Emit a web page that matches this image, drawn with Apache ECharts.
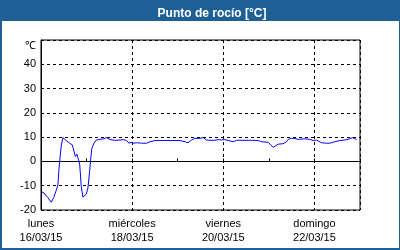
<!DOCTYPE html>
<html>
<head>
<meta charset="utf-8">
<script src="https://cdn.jsdelivr.net/npm/echarts@6/dist/echarts.min.js"></script>
<style>
html,body{margin:0;padding:0;}
#wrap{position:relative;width:400px;height:250px;background:#1e5f96;overflow:hidden;}
#inner{position:absolute;left:2px;top:21px;width:397px;height:227px;background:#ffffff;}
#chart{position:absolute;left:0;top:0;width:400px;height:250px;}
</style>
</head>
<body>
<div id="wrap"><div id="inner"></div><div id="chart"></div></div>
<script>
// hours since 16/03/15 00:00
var hours = [0,1.6,3.7,5.4,6.7,8.1,8.9,9.5,10,10.7,11.6,12.5,13.3,14.2,15.1,15.9,16.5,17.4,18.1,18.9,19.5,19.8,20.4,21.2,22.1,23,23.8,24.7,25.6,26.2,26.8,27.9,29.1,30.2,32.8,34.6,36.3,38.9,41.6,43.3,45.1,46.3,47.4,48.6,50.4,53,55.6,57.4,60,65.3,73.2,75.8,77.5,79.3,81,83.7,85.4,87.2,88.9,91.6,93.3,95.1,96.8,101.2,103,109.1,110,110.9,114.4,116.2,119.6,121,122.3,123.2,124.9,127.5,129.3,130.2,131.9,133.3,135.4,138.9,141.6,143.3,145.1,147.7,150.4,152.1,154.7,157.4,160,162.6,164,165.3,166.2];
var dewPoint = [-12.4,-13,-15,-16.8,-14.9,-11.7,-9.7,-2.8,1.3,6.8,9.8,9.5,8.6,8.8,7.5,8.1,6.8,6.1,2,3,3.4,0.6,-1.4,-10.4,-14.7,-14.5,-13.5,-11,-4.2,1.3,5.4,7.5,8.8,9,9.3,9.8,9,8.7,8.8,9,8.6,7.5,7.9,7.5,7.7,7.5,7.5,8.1,8.6,8.6,8.6,8.1,7.7,8.8,9.5,9.5,9.8,8.8,8.7,8.7,9,8.8,9,8.1,8.7,8.7,8.1,8.7,8.6,8.1,7.9,6.8,5.8,6.1,7.1,7.3,8.1,9.1,9.5,9.5,9.1,9.3,9.1,8.6,8.8,7.7,7.5,7.5,8.1,8.6,8.8,9.3,9.8,9.3,9.1];
var dayNames = ['lunes','miércoles','viernes','domingo'];
var dateLabels = ['16/03/15','18/03/15','20/03/15','22/03/15'];
var yMin = -20, yMax = 50, yStep = 10;
var unitLabel = '℃';
var titleText = 'Punto de rocío [°C]';

var data = hours.map(function(h,i){return [h, dewPoint[i]];});
var font = '"Liberation Sans", Arial, sans-serif';
var chart = echarts.init(document.getElementById('chart'), null, {renderer:'canvas'});
chart.setOption({
  backgroundColor: 'transparent',
  animation: false,
  title: {
    text: titleText, left: 207, top: 3, textAlign: 'center',
    textStyle: {color:'#ffffff', fontSize:12, fontWeight:'bold', fontFamily:font}
  },
  grid: {left:41, top:40, width:319, height:170, show:true, borderColor:'#000', borderWidth:1, backgroundColor:'transparent'},
  xAxis: [{
    type:'value', min:0, max:168, interval:24,
    axisLine:{show:true, lineStyle:{color:'#000', width:1}},
    axisTick:{show:true, inside:true, length:3, lineStyle:{color:'#000'}},
    axisLabel:{show:false}, splitLine:{show:false}
  },{
    type:'value', min:0, max:168, interval:48, position:'bottom',
    axisLine:{show:false}, axisTick:{show:false},
    splitLine:{show:true, lineStyle:{color:'#000', type:[3,3], width:1}},
    axisLabel:{show:true, margin:7, color:'#000', fontSize:11, fontFamily:font, lineHeight:14,
      showMaxLabel:false,
      formatter:function(v){var i=Math.round(v/48); if(i>=dayNames.length) return ''; return dayNames[i]+'\n'+dateLabels[i];}}
  }],
  yAxis: {
    type:'value', min:yMin, max:yMax, interval:yStep,
    axisLine:{show:true, lineStyle:{color:'#000', width:1}},
    axisTick:{show:false},
    splitLine:{show:true, lineStyle:{color:'#000', type:[3,3], width:1}},
    axisLabel:{margin:5, color:'#000', fontSize:11, fontFamily:font,
      formatter:function(v){return v===yMax ? '{u|'+unitLabel+'}' : String(v);},
      rich:{u:{color:'#000', fontSize:11, fontFamily:font, padding:[12,0,0,0]}}}
  },
  series: [{
    type:'line', data:data, xAxisIndex:0, showSymbol:false, symbol:'none',
    lineStyle:{color:'#0000ff', width:1}, smooth:false
  }]
});
</script>
</body>
</html>
